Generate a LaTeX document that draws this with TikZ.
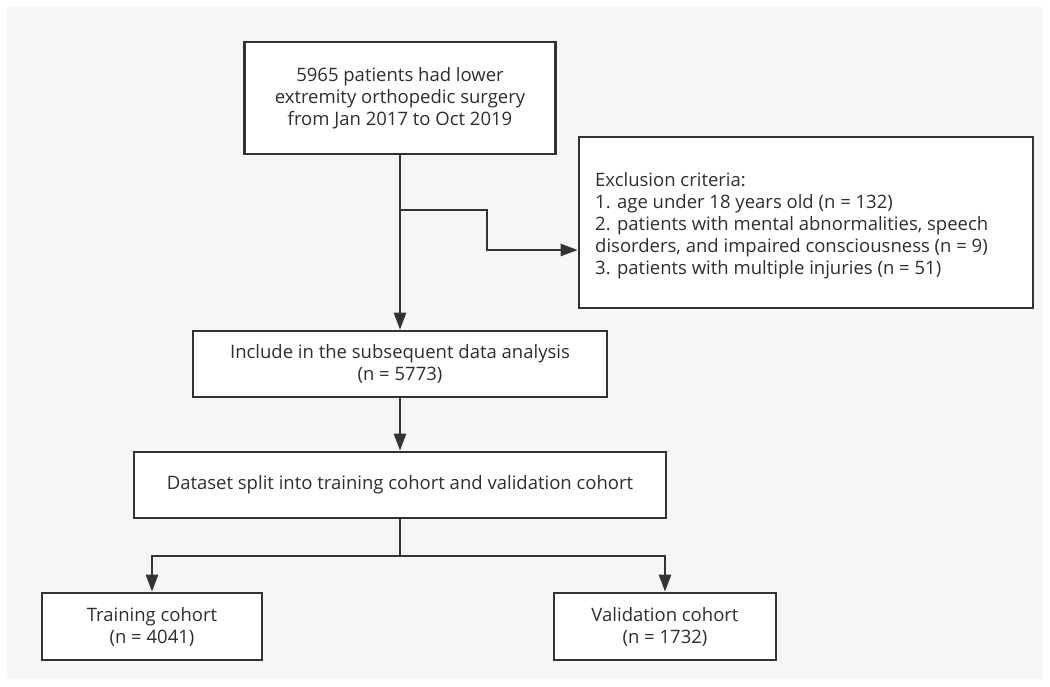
\documentclass[tikz,border=0pt]{standalone}
\usepackage{fontspec}
\setmainfont{Open Sans}
\usetikzlibrary{arrows.meta,positioning}
\definecolor{linegray}{HTML}{333333}
\definecolor{textgray}{HTML}{2E2E2E}
\definecolor{paper}{HTML}{F6F6F6}

\begin{document}
\begin{tikzpicture}[x=1pt, y=-1pt, >={Triangle[length=17pt,width=12pt]},
  font=\fontsize{18.5}{22}\selectfont, text=textgray,
  box/.style={draw=linegray, line width=2.6pt, fill=white, align=center, inner sep=0pt},
  link/.style={draw=linegray, line width=2.4pt}]
  % page and light grey sheet
  \useasboundingbox[fill=white] (0,0) rectangle (1050,686);
  \fill[paper] (7,7) rectangle (1043,679);

  % boxes
  \node[box, minimum width=311pt, minimum height=112pt] (cohort) at (400,98)
    {5965 patients had lower\\extremity orthopedic surgery\\from Jan 2017 to Oct 2019};
  \node[box, minimum width=454pt, minimum height=171pt] (excl) at (806,222.5) {};
  \node[anchor=north west, align=left, inner sep=0pt] (excltext) at (595,172)
    {Exclusion criteria:\\
     1. age under 18 years old (n = 132)\\
     2. patients with mental abnormalities, speech\\
     disorders, and impaired consciousness (n = 9)\\
     3. patients with multiple injuries (n = 51)};
  \node[box, minimum width=414pt, minimum height=66pt] (include) at (400,364)
    {Include in the subsequent data analysis\\(n = 5773)};
  \node[box, minimum width=532pt, minimum height=66pt] (dataset) at (400,485)
    {Dataset split into training cohort and validation cohort};
  \node[box, minimum width=220pt, minimum height=67pt] (train) at (152,626.5)
    {Training cohort\\(n = 4041)};
  \node[box, minimum width=222pt, minimum height=67pt] (valid) at (665,626.5)
    {Validation cohort\\(n = 1732)};

  % connectors
  \coordinate (fork) at (400,210);
  \coordinate (turn) at (487,250);
  \coordinate (split) at (400,556);
  \draw[link,->] (cohort) -- (include);
  \draw[link,->] (fork) -| (turn) -- (turn -| excl.west);
  \draw[link,->] (include) -- (dataset);
  \draw[link] (dataset) -- (split);
  \draw[link,->] (split) -| (train);
  \draw[link,->] (split) -| (valid);
\end{tikzpicture}
\end{document}
